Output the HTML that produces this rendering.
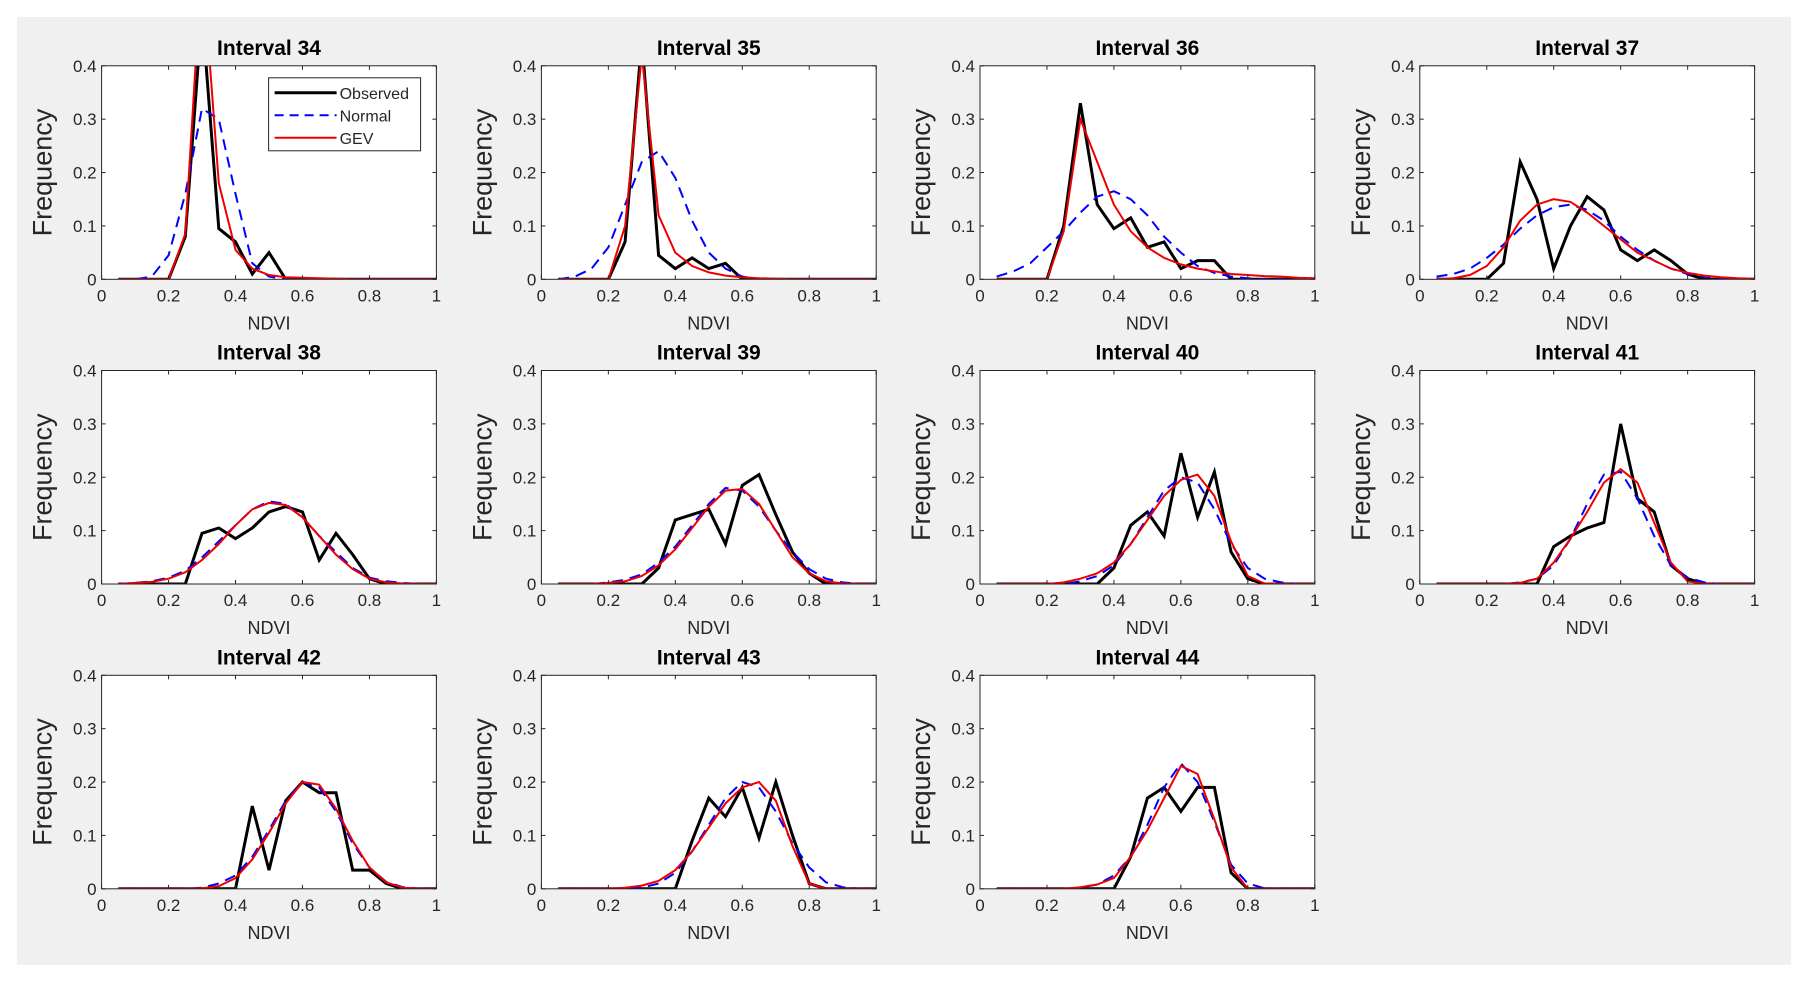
<!DOCTYPE html>
<html><head><meta charset="utf-8"><style>
html,body{margin:0;padding:0;background:#fff;}
svg{display:block;font-family:"Liberation Sans",Arial,sans-serif;}
</style></head><body>
<svg id="fig" width="1810" height="983" xmlns="http://www.w3.org/2000/svg">
<rect x="17" y="17" width="1774" height="948" fill="#f0f0f0"/>
</svg>
<script>
const xVals=[0.05,0.1,0.15,0.2,0.25,0.3,0.35,0.4,0.45,0.5,0.55,0.6,0.65,0.7,0.75,0.8,0.85,0.9,0.95,1];
const titles=["Interval 34","Interval 35","Interval 36","Interval 37","Interval 38","Interval 39","Interval 40","Interval 41","Interval 42","Interval 43","Interval 44"];
const xTicks=[0,0.2,0.4,0.6,0.8,1];
const xTickLabels=["0","0.2","0.4","0.6","0.8","1"];
const yTicks=[0,0.1,0.2,0.3,0.4];
const yTickLabels=["0","0.1","0.2","0.3","0.4"];
const observed=[
[0,0,0,0,0.08,0.5,0.095,0.07,0.01,0.05,0,0,0,0,0,0,0,0,0,0],
[0,0,0,0,0.07,0.45,0.045,0.02,0.04,0.02,0.03,0,0,0,0,0,0,0,0,0],
[0,0,0,0,0.1,0.33,0.14,0.095,0.115,0.06,0.07,0.02,0.035,0.035,0,0,0,0,0,0],
[0,0,0,0,0.03,0.22,0.15,0.02,0.1,0.155,0.13,0.055,0.035,0.055,0.035,0.01,0,0,0,0],
[0,0,0,0,0,0.095,0.105,0.085,0.105,0.135,0.145,0.135,0.045,0.095,0.055,0.01,0,0,0,0],
[0,0,0,0,0,0,0.03,0.12,0.13,0.14,0.075,0.185,0.205,0.13,0.06,0.02,0,0,0,0],
[0,0,0,0,0,0,0,0.03,0.11,0.135,0.09,0.245,0.125,0.21,0.06,0.01,0,0,0,0],
[0,0,0,0,0,0,0,0.07,0.09,0.105,0.115,0.3,0.16,0.135,0.035,0.01,0,0,0,0],
[0,0,0,0,0,0,0,0,0.155,0.035,0.165,0.2,0.18,0.18,0.035,0.035,0.01,0,0,0],
[0,0,0,0,0,0,0,0,0.09,0.17,0.135,0.19,0.095,0.2,0.1,0.01,0,0,0,0],
[0,0,0,0,0,0,0,0,0.06,0.17,0.19,0.145,0.19,0.19,0.03,0,0,0,0,0]
];
const normal=[
[0,0,0.005,0.045,0.16,0.32,0.30,0.16,0.03,0.005,0,0,0,0,0,0,0,0,0,0],
[0,0.005,0.02,0.06,0.14,0.22,0.24,0.19,0.11,0.05,0.02,0.005,0,0,0,0,0,0,0,0],
[0.005,0.015,0.03,0.06,0.09,0.125,0.155,0.165,0.15,0.12,0.08,0.05,0.025,0.012,0.005,0.002,0,0,0,0],
[0.005,0.01,0.02,0.04,0.065,0.095,0.12,0.135,0.14,0.13,0.11,0.08,0.055,0.035,0.02,0.01,0.005,0.002,0,0],
[0,0.002,0.005,0.012,0.025,0.05,0.08,0.11,0.14,0.155,0.15,0.125,0.09,0.06,0.03,0.012,0.005,0.002,0,0],
[0,0,0,0.003,0.008,0.018,0.04,0.07,0.11,0.15,0.18,0.175,0.145,0.1,0.06,0.028,0.01,0.003,0,0],
[0,0,0,0,0,0.005,0.015,0.035,0.075,0.125,0.175,0.2,0.19,0.14,0.075,0.03,0.01,0.003,0,0],
[0,0,0,0,0,0.003,0.01,0.035,0.085,0.15,0.205,0.21,0.16,0.09,0.035,0.012,0.003,0,0,0],
[0,0,0,0,0,0.002,0.01,0.025,0.06,0.11,0.165,0.2,0.19,0.145,0.085,0.04,0.013,0.003,0,0],
[0,0,0,0,0,0.002,0.01,0.03,0.07,0.12,0.17,0.2,0.19,0.145,0.085,0.04,0.012,0.003,0,0],
[0,0,0,0,0,0.002,0.008,0.025,0.06,0.12,0.19,0.235,0.2,0.125,0.045,0.01,0.001,0,0,0]
];
const gev=[
[0,0,0,0,0.085,0.6,0.18,0.055,0.02,0.008,0.004,0.003,0.002,0.001,0,0,0,0,0,0],
[0,0,0,0,0.1,0.42,0.12,0.05,0.025,0.013,0.007,0.004,0.002,0.001,0,0,0,0,0,0],
[0,0,0,0,0.09,0.3,0.22,0.14,0.09,0.06,0.04,0.028,0.02,0.015,0.01,0.008,0.006,0.005,0.003,0.002],
[0,0.002,0.008,0.025,0.06,0.11,0.14,0.15,0.145,0.125,0.1,0.075,0.05,0.035,0.02,0.012,0.007,0.004,0.002,0.001],
[0,0.002,0.004,0.01,0.022,0.045,0.075,0.11,0.14,0.152,0.148,0.125,0.09,0.055,0.028,0.01,0.003,0.001,0,0],
[0,0,0,0.002,0.005,0.015,0.035,0.065,0.105,0.145,0.175,0.178,0.15,0.1,0.05,0.02,0.005,0.001,0,0],
[0,0,0,0,0.003,0.01,0.02,0.04,0.075,0.12,0.165,0.195,0.205,0.165,0.08,0.015,0.001,0,0,0],
[0,0,0,0,0,0.002,0.01,0.04,0.085,0.135,0.19,0.215,0.19,0.115,0.04,0.005,0,0,0,0],
[0,0,0,0,0,0.001,0.005,0.02,0.055,0.105,0.16,0.2,0.195,0.15,0.09,0.04,0.012,0.002,0,0],
[0,0,0,0,0.002,0.006,0.015,0.035,0.07,0.115,0.16,0.19,0.2,0.165,0.08,0.01,0,0,0,0],
[0,0,0,0,0,0.003,0.008,0.02,0.06,0.11,0.17,0.23,0.215,0.13,0.04,0,0,0,0,0]
];
const NS="http://www.w3.org/2000/svg";
const svg=document.getElementById('fig');
function mk(tag,attrs,parent){const e=document.createElementNS(NS,tag);for(const k in attrs)e.setAttribute(k,attrs[k]);(parent||svg).appendChild(e);return e;}
const colX=[101.6,541.4,980,1419.8], rowY=[65.8,370.5,675.3];
const W=334.8,H=213.5;
titles.forEach((t,i)=>{
  const L=colX[i%4],T=rowY[Math.floor(i/4)];
  const sx=v=>L+v*W, sy=v=>T+H-(v/0.4)*H;
  const g=mk('g',{});
  
  
  const bg=mk('rect',{x:L,y:T,width:W,height:H,fill:'#fff'},g);
  
  
  const cid='c'+i;
  const cp=mk('clipPath',{id:cid},g);mk('rect',{x:L,y:T,width:W,height:H},cp);
  [[observed[i],'#000',3,'','observed-line'],[normal[i],'#0000ff',2,'11,7','normal-line'],[gev[i],'#ee0000',2,'','gev-line']].forEach(s=>{
    const pts=s[0].map((v,k)=>sx(xVals[k]).toFixed(1)+','+sy(v).toFixed(1)).join(' ');
    const pl=mk('polyline',{points:pts,fill:'none',stroke:s[1],'stroke-width':s[2],'stroke-dasharray':s[3],'clip-path':'url(#'+cid+')','stroke-linejoin':'miter'},g);
    
    
  });
  const box=mk('rect',{x:L,y:T,width:W,height:H,fill:'none',stroke:'#262626','stroke-width':1},g);
  
  
  xTicks.forEach((v,k)=>{
    const x=sx(v);
    mk('line',{x1:x,y1:T+H,x2:x,y2:T+H-4,stroke:'#262626'},g);
    mk('line',{x1:x,y1:T,x2:x,y2:T+4,stroke:'#262626'},g);
    const tx=mk('text',{x:x,y:T+H+22,'text-anchor':'middle','font-size':17,fill:'#262626'},g);
    tx.textContent=xTickLabels[k];
    
    
  });
  yTicks.forEach((v,k)=>{
    const y=sy(v);
    mk('line',{x1:L,y1:y,x2:L+4,y2:y,stroke:'#262626'},g);
    mk('line',{x1:L+W,y1:y,x2:L+W-4,y2:y,stroke:'#262626'},g);
    const tx=mk('text',{x:L-5,y:y+6,'text-anchor':'end','font-size':17,fill:'#262626'},g);
    tx.textContent=yTickLabels[k];
    
    
  });
  const xl=mk('text',{x:L+W/2,y:T+H+50,'text-anchor':'middle','font-size':18,fill:'#262626'},g);
  xl.textContent='NDVI';
  
  
  const yl=mk('text',{x:0,y:0,'text-anchor':'middle','font-size':27,fill:'#262626',transform:'translate('+(L-50)+','+(T+H/2)+') rotate(-90)'},g);
  yl.textContent='Frequency';
  
  
  const ti=mk('text',{x:L+W/2,y:T-11,'text-anchor':'middle','font-size':21,'font-weight':'bold',fill:'#000'},g);
  ti.textContent=t;
  
  
  if(i===0){
    const lg=mk('g',{},g);
    
    
    mk('rect',{x:L+167,y:T+12,width:152,height:73,fill:'#fff',stroke:'#262626','stroke-width':1},lg);
    [['Observed','#000',3,''],['Normal','#0000ff',2,'9,6'],['GEV','#ee0000',2,'']].forEach((e,k)=>{
      const y=T+27+k*22.5;
      const en=mk('g',{},lg);
      
      
      mk('line',{x1:L+173,y1:y,x2:L+235,y2:y,stroke:e[1],'stroke-width':e[2],'stroke-dasharray':e[3]},en);
      const tx=mk('text',{x:L+238,y:y+6,'font-size':16,fill:'#262626'},en);
      tx.textContent=e[0];
    });
  }
});
</script>
</body></html>
